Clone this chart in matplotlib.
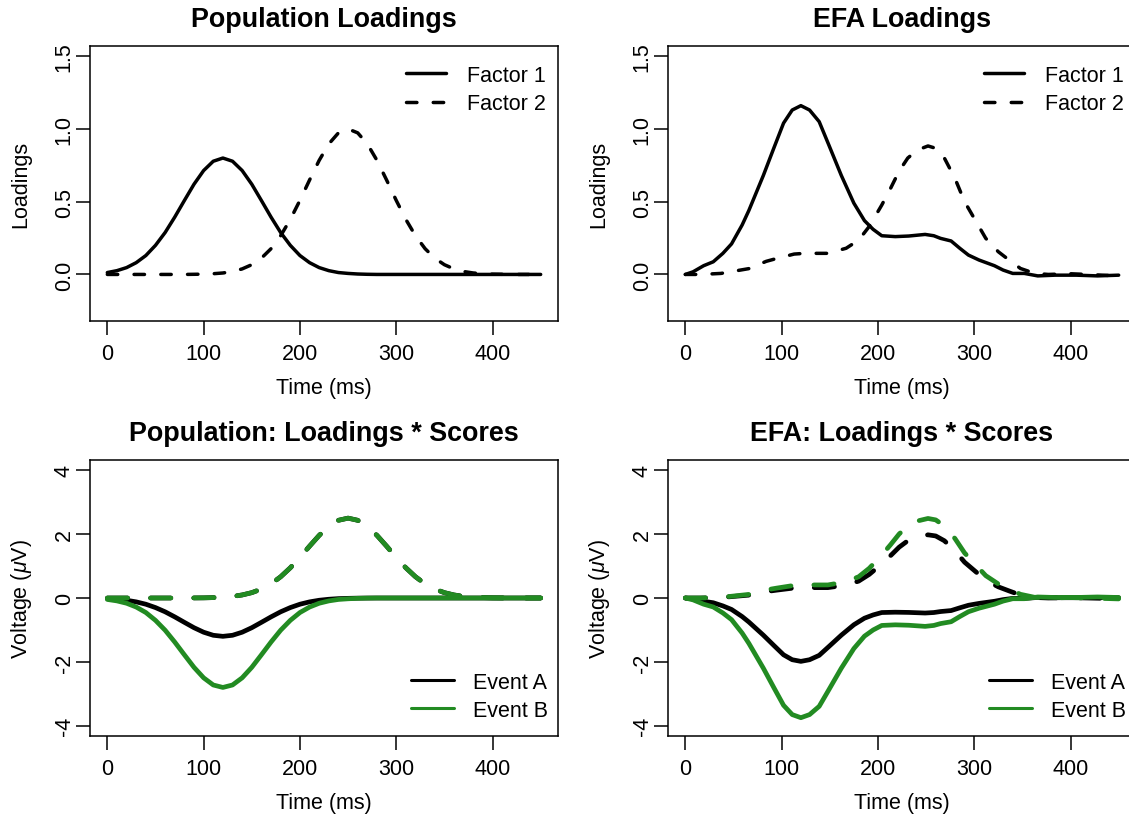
import matplotlib
matplotlib.use("Agg")
import matplotlib.pyplot as plt
import numpy as np

# ---------------- data ----------------
time_pop = [0, 10, 20, 30, 40, 50, 60, 70, 80, 90, 100, 110, 120, 130, 140, 150,
            160, 170, 180, 190, 200, 210, 220, 230, 240, 250, 260, 270, 280, 290,
            300, 310, 320, 330, 340, 350, 360, 370, 380, 390, 400, 410, 420, 430,
            440, 450]
pop_f1 = [0.013, 0.026, 0.047, 0.081, 0.130, 0.200, 0.288, 0.394, 0.508, 0.620,
          0.714, 0.778, 0.800, 0.778, 0.714, 0.620, 0.508, 0.394, 0.288, 0.200,
          0.130, 0.081, 0.047, 0.026, 0.013, 0.007, 0.003, 0.001, 0, 0,
          0, 0, 0, 0, 0, 0, 0, 0, 0, 0, 0, 0, 0, 0, 0, 0]
pop_f2 = [0, 0, 0, 0, 0, 0, 0, 0, 0, 0.001,
          0.002, 0.005, 0.010, 0.020, 0.038, 0.067, 0.112, 0.177, 0.266, 0.378,
          0.509, 0.649, 0.784, 0.897, 0.973, 1.000, 0.973, 0.897, 0.784, 0.649,
          0.509, 0.378, 0.266, 0.177, 0.112, 0.067, 0.038, 0.020, 0.010, 0.005,
          0.002, 0.001, 0, 0, 0, 0]

efa_t1 = [0, 8, 19, 29, 39, 48, 59, 66, 81, 92, 102, 111, 120, 129, 139, 149, 162,
          175, 186, 195, 204, 218, 232, 249, 258, 265, 276, 285, 294, 305, 321, 330,
          340, 352, 366, 384, 406, 428, 450]
efa_f1 = [0.0, 0.018, 0.06, 0.087, 0.145, 0.21, 0.34, 0.44, 0.68, 0.87, 1.04, 1.13,
          1.16, 1.13, 1.05, 0.89, 0.68, 0.49, 0.37, 0.31, 0.266, 0.26, 0.264, 0.275,
          0.266, 0.248, 0.23, 0.18, 0.133, 0.099, 0.06, 0.03, 0.007, 0.007, -0.01,
          -0.005, -0.005, -0.01, -0.005]
efa_t2 = [0, 16, 37, 66, 84, 95, 113, 124, 148, 167, 180, 191, 204, 213, 222, 231,
          241, 252, 260, 269, 280, 290, 301, 312, 325, 336, 348, 363, 377, 399, 417, 450]
efa_f2 = [0.0, 0.0, 0.007, 0.04, 0.09, 0.11, 0.14, 0.145, 0.145, 0.18, 0.236, 0.33,
          0.477, 0.59, 0.71, 0.80, 0.855, 0.883, 0.867, 0.80, 0.66, 0.50, 0.374,
          0.248, 0.156, 0.10, 0.041, 0.007, 0.0, 0.005, 0.0, -0.01]

# factor scores (factor 1, factor 2) per event
pop_scores_A = [-1.5, 2.5]
pop_scores_B = [-3.5, 2.5]
efa_scores_A = [-1.71, 2.24]
efa_scores_B = [-3.23, 2.82]

factor_labels = ["Factor 1", "Factor 2"]
event_labels = ["Event A", "Event B"]
titles = ["Population Loadings", "EFA Loadings",
          "Population: Loadings * Scores", "EFA: Loadings * Scores"]
xticks = [0, 100, 200, 300, 400]
yticks_load = [0.0, 0.5, 1.0, 1.5]
yticks_volt = [-4, -2, 0, 2, 4]

# ---------------- style ----------------
plt.rcParams['font.family'] = ['Liberation Sans', 'DejaVu Sans']
plt.rcParams['axes.unicode_minus'] = False
plt.rcParams['mathtext.fontset'] = 'custom'
plt.rcParams['mathtext.it'] = 'Liberation Sans:italic'
plt.rcParams['mathtext.rm'] = 'Liberation Sans'

FS = 15.5
TFS = 19.4
GREEN = '#228B22'
LW_TOP = 2.5
LW_BOT = 3.4
DASH_TOP = (3.0, 4.7)
DASH_BOT = (4.3, 4.85)

W, H = 1129, 820
fig = plt.figure(figsize=(W / 100, H / 100), dpi=100)

def ax_at(x0, y0, x1, y1):
    return fig.add_axes([x0 / W, 1 - y1 / H, (x1 - x0) / W, (y1 - y0) / H])

axes = [ax_at(90, 47, 558, 322), ax_at(668, 47, 1136, 322),
        ax_at(90, 461, 558, 737), ax_at(668, 461, 1136, 737)]

def style(ax, title, ylabel, yticks, ylim, yfmt):
    ax.set_xlim(-18, 468)
    ax.set_ylim(*ylim)
    ax.set_xticks(xticks)
    ax.set_xticklabels([str(v) for v in xticks])
    ax.set_yticks(yticks)
    ax.set_yticklabels([yfmt(v) for v in yticks])
    ax.tick_params(axis='both', direction='out', length=10, width=1.1,
                   labelsize=FS)
    ax.tick_params(axis='x', pad=5.5)
    ax.tick_params(axis='y', pad=1)
    for lbl in ax.get_yticklabels():
        lbl.set_rotation(90)
        lbl.set_va('center')
        lbl.set_ha('right')
    for s in ax.spines.values():
        s.set_linewidth(1.1)
    ax.annotate(title, xy=(0.5, 1), xycoords='axes fraction',
                xytext=(0, 27 * 0.72), textcoords='offset points',
                ha='center', va='center', fontsize=TFS, fontweight='bold')
    ax.annotate('Time (ms)', xy=(0.5, 0), xycoords='axes fraction',
                xytext=(0, -67 * 0.72), textcoords='offset points',
                ha='center', va='center', fontsize=FS)
    ax.annotate(ylabel, xy=(0, 0.5), xycoords='axes fraction',
                xytext=(-69 * 0.72, 0), textcoords='offset points',
                ha='center', va='center', fontsize=FS, rotation=90)

# loadings panels
for ax, (t1, f1, t2, f2), title in [
        (axes[0], (time_pop, pop_f1, time_pop, pop_f2), titles[0]),
        (axes[1], (efa_t1, efa_f1, efa_t2, efa_f2), titles[1])]:
    ax.plot(t1, f1, color='black', lw=LW_TOP, solid_capstyle='round',
            solid_joinstyle='round', label=factor_labels[0])
    ax.plot(t2, f2, color='black', lw=LW_TOP, linestyle=(0, DASH_TOP),
            dash_capstyle='round', dash_joinstyle='round', label=factor_labels[1])
    style(ax, title, 'Loadings', yticks_load, (-0.32, 1.57), lambda v: f"{v:.1f}")
    ax.legend(loc='upper right', bbox_to_anchor=(1 - 12 / 468, 1 - 19 / 275),
              frameon=False, fontsize=FS, handlelength=1.85,
              handletextpad=1.0, labelspacing=0.33, borderpad=0,
              borderaxespad=0)

# loadings * scores panels
for ax, (t1, f1, t2, f2), sA, sB, title in [
        (axes[2], (time_pop, pop_f1, time_pop, pop_f2), pop_scores_A, pop_scores_B, titles[2]),
        (axes[3], (efa_t1, efa_f1, efa_t2, efa_f2), efa_scores_A, efa_scores_B, titles[3])]:
    f1 = np.asarray(f1)
    f2 = np.asarray(f2)
    for s, col in [(sA, 'black'), (sB, GREEN)]:
        ax.plot(t1, s[0] * f1, color=col, lw=LW_BOT, solid_capstyle='round',
                solid_joinstyle='round')
        ax.plot(t2, s[1] * f2, color=col, lw=LW_BOT, linestyle=(0, DASH_BOT),
                dash_capstyle='round', dash_joinstyle='round')
    style(ax, title, r'Voltage ($\mu$V)', yticks_volt, (-4.32, 4.32), lambda v: f"{v:d}")
    hA, = ax.plot([], [], color='black', lw=2.2, solid_capstyle='round')
    hB, = ax.plot([], [], color=GREEN, lw=2.2, solid_capstyle='round')
    ax.legend([hA, hB], event_labels, loc='lower right',
              bbox_to_anchor=(1 - 10 / 468, 15 / 276),
              frameon=False, fontsize=FS, handlelength=2.0,
              handletextpad=0.9, labelspacing=0.33, borderpad=0,
              borderaxespad=0)

fig.savefig('out.png', dpi=100)
